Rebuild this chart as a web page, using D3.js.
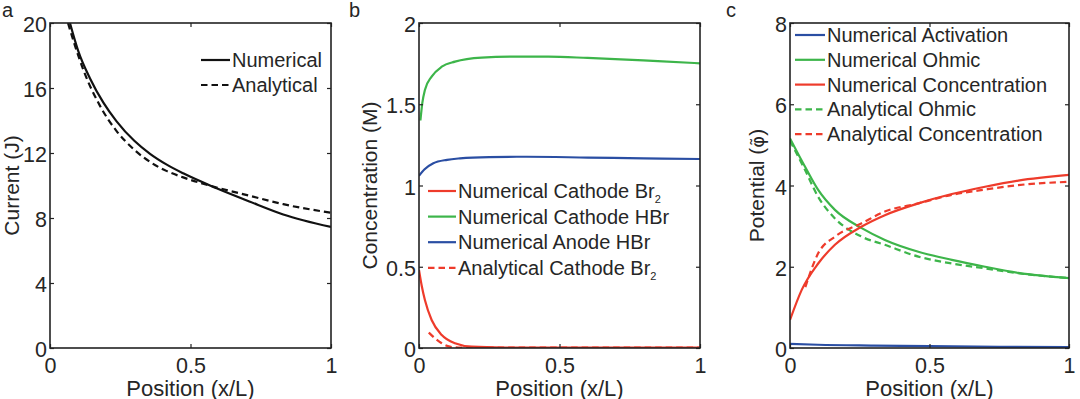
<!DOCTYPE html>
<html>
<head>
<meta charset="utf-8">
<script src="https://cdn.jsdelivr.net/npm/d3@7"></script>
<style>
  body { margin: 0; background: #fff; }
  svg { display: block; font-family: "Liberation Sans", Arial, sans-serif; }
  .tick text { fill: #262626; }
</style>
</head>
<body>
<div id="chart"></div>
<script>
// ---- data ----
const xTicks = [0, 0.5, 1];
const currentTicks = [0, 4, 8, 12, 16, 20];
const concTicks = [0, 0.5, 1, 1.5, 2];
const potTicks = [0, 2, 4, 6, 8];

// panel a: current (J)
const currentNumerical = [[0.071, 20], [0.1, 18.3], [0.142, 16.6], [0.19, 15.1], [0.237, 13.95], [0.3, 12.75],
  [0.356, 11.95], [0.414, 11.3], [0.474, 10.75], [0.593, 9.83], [0.712, 9.0], [0.83, 8.22], [1, 7.45]];
const currentAnalytical = [[0.064, 20], [0.09, 18.55], [0.119, 17.1], [0.178, 14.9], [0.237, 13.35], [0.3, 12.2],
  [0.356, 11.45], [0.414, 10.9], [0.474, 10.5], [0.593, 9.88], [0.712, 9.36], [0.83, 8.85], [1, 8.32]];

// panel b: concentration (M)
const cathodeBr2 = [[0, 0.48], [0.01, 0.38], [0.021, 0.295], [0.045, 0.172], [0.081, 0.08], [0.128, 0.029],
  [0.188, 0.008], [0.3, 0.003], [0.5, 0.002], [1, 0.002]];
const cathodeHBr = [[0.005, 1.40], [0.012, 1.51], [0.021, 1.588], [0.045, 1.67], [0.081, 1.731], [0.128, 1.762],
  [0.223, 1.787], [0.35, 1.793], [0.46, 1.793], [0.6, 1.785], [0.698, 1.778], [0.85, 1.765], [1, 1.752]];
const anodeHBr = [[0, 1.06], [0.02, 1.10], [0.051, 1.137], [0.1, 1.158], [0.146, 1.167], [0.25, 1.175],
  [0.383, 1.177], [0.6, 1.172], [0.8, 1.167], [1, 1.163]];
const cathodeBr2Analytical = [[0.035, 0.095], [0.06, 0.055], [0.081, 0.029], [0.11, 0.008], [0.15, 0.002], [1, 0.002]];

// panel c: potential
const numActivation = [[0, 0.1], [0.1, 0.08], [0.3, 0.06], [0.5, 0.045], [0.75, 0.03], [1, 0.02]];
const numOhmic = [[0, 5.16], [0.054, 4.46], [0.101, 3.89], [0.161, 3.40], [0.257, 2.95], [0.34, 2.66],
  [0.46, 2.37], [0.58, 2.17], [0.699, 2.0], [0.818, 1.85], [1, 1.72]];
const numConcentration = [[0, 0.69], [0.042, 1.43], [0.101, 2.08], [0.161, 2.54], [0.257, 2.99], [0.34, 3.27],
  [0.46, 3.56], [0.58, 3.79], [0.699, 3.97], [0.818, 4.12], [1, 4.26]];
const anaOhmic = [[0, 5.1], [0.054, 4.38], [0.101, 3.72], [0.161, 3.19], [0.257, 2.74], [0.34, 2.54],
  [0.46, 2.25], [0.58, 2.08], [0.699, 1.96], [0.818, 1.84], [1, 1.72]];
const anaConcentration = [[0.055, 1.5], [0.101, 2.33], [0.161, 2.74], [0.257, 3.07], [0.34, 3.36],
  [0.46, 3.56], [0.58, 3.77], [0.699, 3.9], [0.818, 4.01], [1, 4.09]];

const legendA = ["Numerical", "Analytical"];
const legendB = [["Numerical Cathode Br", "2"], ["Numerical Cathode HBr", ""], ["Numerical Anode HBr", ""], ["Analytical Cathode Br", "2"]];
const legendC = ["Numerical Activation", "Numerical Ohmic", "Numerical Concentration", "Analytical Ohmic", "Analytical Concentration"];

// ---- drawing ----
const W = 1080, H = 399;
const plotTop = 23, plotBottom = 348;
const BLACK = "#111", RED = "#ee3b2b", GREEN = "#3db54a", BLUE = "#2a4ea3";
const DASH = "6.5,4";

const svg = d3.select("#chart").append("svg").attr("width", W).attr("height", H);
svg.append("rect").attr("width", W).attr("height", H).attr("fill", "#fff");

function drawPanel(p) {
  const x = d3.scaleLinear().domain([0, 1]).range([p.left, p.right]);
  const y = d3.scaleLinear().domain(p.yDomain).range([plotBottom, plotTop]);
  const g = svg.append("g");

  const clipId = "clip-" + p.id;
  svg.append("clipPath").attr("id", clipId)
    .append("rect").attr("x", p.left).attr("y", plotTop).attr("width", p.right - p.left).attr("height", plotBottom - plotTop);

  const line = d3.line().x(d => x(d[0])).y(d => y(d[1])).curve(d3.curveMonotoneX);
  const curves = g.append("g").attr("clip-path", `url(#${clipId})`);
  p.series.forEach(s => {
    curves.append("path").datum(s.data)
      .attr("fill", "none").attr("stroke", s.color).attr("stroke-width", 2.2)
      .attr("stroke-dasharray", s.dash ? DASH : null)
      .attr("d", line);
  });

  // axes with inward ticks (MATLAB style)
  const fmt = d => String(d);
  g.append("g").attr("transform", `translate(0,${plotBottom})`)
    .call(d3.axisBottom(x).tickValues(xTicks).tickFormat(fmt).tickSizeInner(-4).tickSizeOuter(0).tickPadding(10))
    .call(a => a.select(".domain").remove())
    .call(a => a.selectAll("text").attr("font-size", 21.5));
  g.append("g").attr("transform", `translate(0,${plotTop})`)
    .call(d3.axisTop(x).tickValues(xTicks).tickFormat("").tickSizeInner(-4).tickSizeOuter(0))
    .call(a => a.select(".domain").remove());
  g.append("g").attr("transform", `translate(${p.left},0)`)
    .call(d3.axisLeft(y).tickValues(p.yTicks).tickFormat(fmt).tickSizeInner(-4).tickSizeOuter(0).tickPadding(3))
    .call(a => a.select(".domain").remove())
    .call(a => a.selectAll("text").attr("font-size", 21.5).attr("dy", "0.4em"));
  g.append("g").attr("transform", `translate(${p.right},0)`)
    .call(d3.axisRight(y).tickValues(p.yTicks).tickFormat("").tickSizeInner(-4).tickSizeOuter(0))
    .call(a => a.select(".domain").remove());
  g.selectAll(".tick line").attr("stroke", "#222").attr("stroke-width", 1.2);

  g.append("rect").attr("x", p.left).attr("y", plotTop)
    .attr("width", p.right - p.left).attr("height", plotBottom - plotTop)
    .attr("fill", "none").attr("stroke", "#222").attr("stroke-width", 1.6);

  // titles
  g.append("text").attr("x", (p.left + p.right) / 2).attr("y", 395.5)
    .attr("text-anchor", "middle").attr("font-size", 22).attr("fill", "#262626").text("Position (x/L)");
  const yt = g.append("text").attr("transform", `translate(${p.yTitleX},${(plotTop + plotBottom) / 2}) rotate(-90)`)
    .attr("text-anchor", "middle").attr("font-size", 21).attr("fill", "#262626");
  yt.append("tspan").text(p.yTitle);
  if (p.yTitleSym) {
    yt.append("tspan").attr("font-family", "DejaVu Sans").attr("font-size", 18).text(p.yTitleSym);
    yt.append("tspan").text(")");
  }
  g.append("text").attr("x", p.tagX).attr("y", 17).attr("font-size", 20).attr("fill", "#262626").text(p.id);

  // legend
  const lg = g.append("g");
  p.legend.forEach((item, i) => {
    const cy = p.legY + i * p.legStep;
    const s = p.series[item.series];
    lg.append("line").attr("x1", p.legX).attr("x2", p.legX + p.legLen).attr("y1", cy).attr("y2", cy)
      .attr("stroke", s.color).attr("stroke-width", 2.2).attr("stroke-dasharray", s.dash ? DASH : null);
    const t = lg.append("text").attr("x", p.legX + p.legLen + 2).attr("y", cy + 7)
      .attr("font-size", 20).attr("fill", "#262626");
    t.append("tspan").text(item.label);
    if (item.sub) t.append("tspan").attr("font-size", 11).attr("dy", 5).text(item.sub);
  });
}

drawPanel({
  id: "a", left: 50, right: 331, yDomain: [0, 20], yTicks: currentTicks,
  yTitle: "Current (J)", yTitleX: 19, tagX: 2,
  series: [
    { data: currentNumerical, color: BLACK },
    { data: currentAnalytical, color: BLACK, dash: true }
  ],
  legend: legendA.map((l, i) => ({ label: l, series: i })),
  legX: 201, legLen: 29, legY: 60, legStep: 25
});

drawPanel({
  id: "b", left: 419, right: 700, yDomain: [0, 2], yTicks: concTicks,
  yTitle: "Concentration (M)", yTitleX: 377, tagX: 349,
  series: [
    { data: cathodeBr2, color: RED },
    { data: cathodeHBr, color: GREEN },
    { data: anodeHBr, color: BLUE },
    { data: cathodeBr2Analytical, color: RED, dash: true }
  ],
  legend: legendB.map((l, i) => ({ label: l[0], sub: l[1], series: i })),
  legX: 428, legLen: 28, legY: 191, legStep: 25.6
});

drawPanel({
  id: "c", left: 790, right: 1069, yDomain: [0, 8], yTicks: potTicks,
  yTitle: "Potential (", yTitleSym: "φ\u0303", yTitleX: 764, tagX: 726,
  series: [
    { data: numActivation, color: BLUE },
    { data: numOhmic, color: GREEN },
    { data: numConcentration, color: RED },
    { data: anaOhmic, color: GREEN, dash: true },
    { data: anaConcentration, color: RED, dash: true }
  ],
  legend: legendC.map((l, i) => ({ label: l, series: i })),
  legX: 795, legLen: 30, legY: 35, legStep: 24.8
});
</script>
</body>
</html>
